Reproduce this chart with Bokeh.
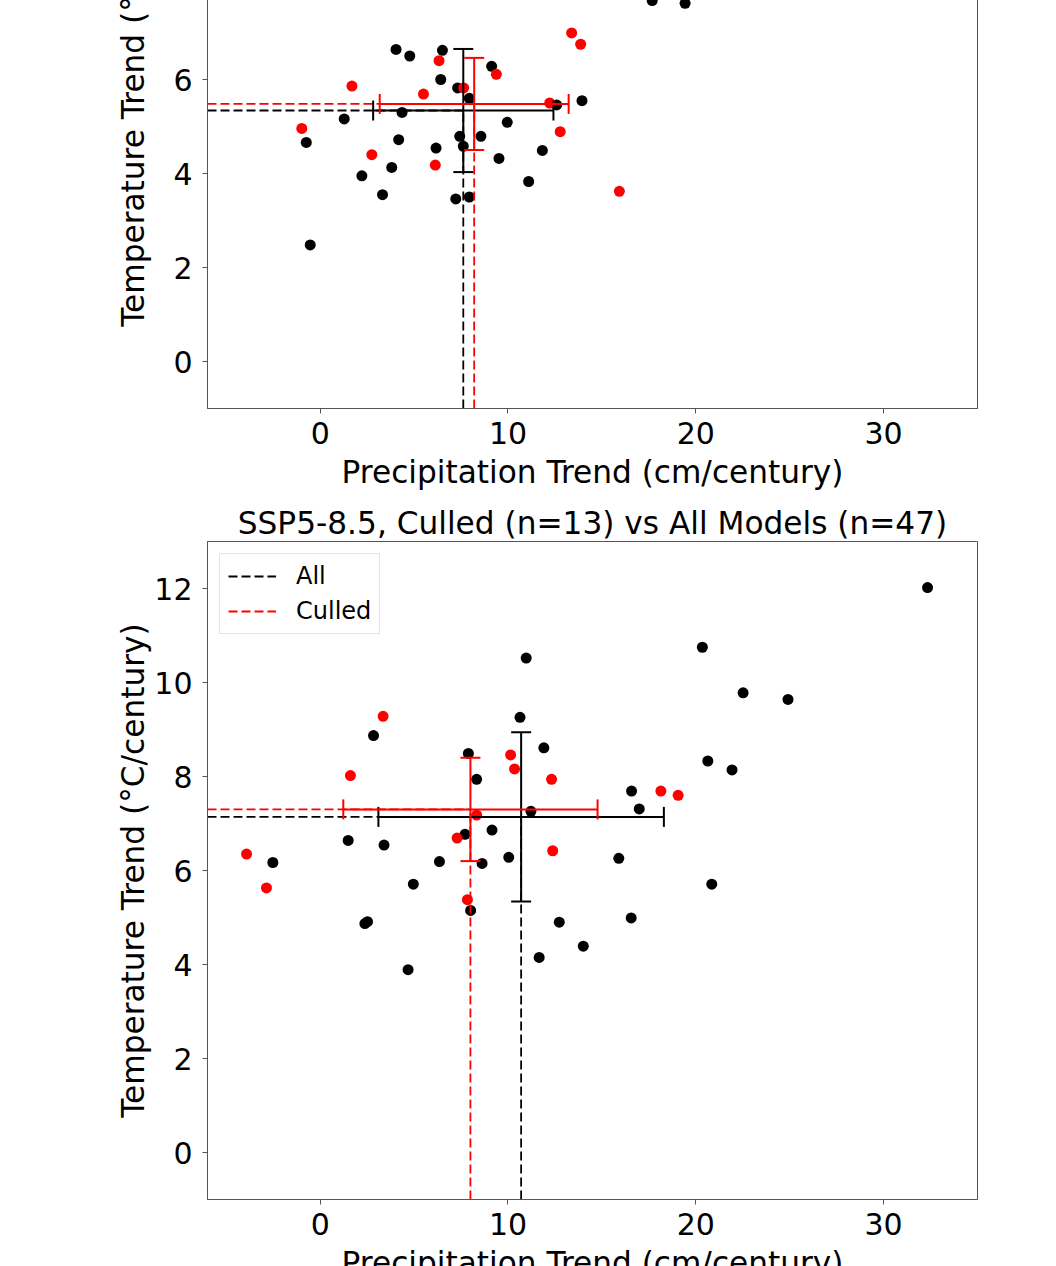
from bokeh.plotting import figure
from bokeh.models import Range1d, FixedTicker, Whisker, TeeHead, ColumnDataSource
from bokeh.layouts import column
from bokeh.embed import file_html
from bokeh.resources import INLINE

FONT = "DejaVu Sans"

# ---------------- data ----------------
x_ticks = [0, 10, 20, 30]
y_ticks = [0, 2, 4, 6, 8, 10, 12]
X_START, X_END = -6, 35
Y_START, Y_END = -1, 13

# top panel (its upper part lies above the visible page in the reference)
top_all_x = [4.04, 4.77, 6.51, 6.42, 7.32, 7.94, 9.13, 4.36, 1.28, -0.74, 4.18, 6.17,
             7.43, 7.62, 8.56, 9.96, 11.83, 9.52, 3.81, 2.22, 3.32, 7.22, 7.94, 11.10,
             12.59, 13.94, -0.53, 17.68, 19.43]
top_all_y = [6.64, 6.50, 6.62, 6.00, 5.82, 5.60, 6.28, 5.30, 5.16, 4.66, 4.72, 4.54,
             4.79, 4.58, 4.79, 5.09, 4.49, 4.32, 4.13, 3.95, 3.55, 3.46, 3.50, 3.83,
             5.46, 5.55, 2.48, 7.68, 7.62]
top_cull_x = [13.39, 13.87, 6.33, 9.38, 1.69, 7.64, 5.50, 12.22, -0.98, 12.78, 2.75, 6.13, 15.93]
top_cull_y = [6.99, 6.75, 6.40, 6.11, 5.86, 5.82, 5.69, 5.50, 4.96, 4.89, 4.40, 4.18, 3.62]
top_all_mean = [7.62, 5.34]
top_all_sd = [4.80, 1.31]
top_cull_mean = [8.20, 5.48]
top_cull_sd = [5.03, 0.98]

# bottom panel
bot_title = "SSP5-8.5, Culled (n=13) vs All Models (n=47)"
bot_all_x = [10.64, 2.84, 7.89, 11.91, 8.33, 16.58, 16.99, 11.22, 7.71, 9.15, 1.49, 3.40,
             -2.52, 6.35, 8.62, 10.04, 15.90, 4.96, 8.01, 2.38, 2.52, 12.73, 16.56, 14.01,
             11.66, 4.68, 32.34, 20.35, 10.97, 22.52, 24.91, 20.64, 21.93, 20.85]
bot_all_y = [9.26, 8.87, 8.49, 8.61, 7.94, 7.69, 7.31, 7.26, 6.77, 6.86, 6.64, 6.54,
             6.17, 6.19, 6.15, 6.28, 6.26, 5.71, 5.15, 4.87, 4.91, 4.90, 4.99, 4.39,
             4.15, 3.89, 12.02, 10.75, 10.52, 9.78, 9.64, 8.33, 8.14, 5.71]
bot_cull_x = [3.35, 1.61, 10.14, 10.35, 12.32, 18.14, 19.06, 8.33, 7.29, 12.38, -3.92, -2.86, 7.84]
bot_cull_y = [9.28, 8.02, 8.46, 8.16, 7.94, 7.69, 7.60, 7.18, 6.69, 6.42, 6.35, 5.63, 5.38]
bot_all_mean = [10.70, 7.14]
bot_all_sd = [7.60, 1.80]
bot_cull_mean = [8.00, 7.30]
bot_cull_sd = [6.77, 1.10]

x_label = "Precipitation Trend (cm/century)"
y_label = "Temperature Trend (°C/century)"
series_names = ["All", "Culled"]
colors = ["#000000", "#ff0000"]

# ---------------- layout constants ----------------
FRAME_W = 770
FRAME_H = 658
LEFT = 207
RIGHT = 40
TOP_HIDDEN = 250          # part of the upper panel that lies above the page
P1_BOTTOM = 89
P2_TOP = 44
P2_BOTTOM = 100
PAGE_H = 1266
TICK_FS = "30px"
LAB_FS = "31.2px"
LINE_C = "#555555"
DASH = "9 4"


def style(p):
    p.xaxis.ticker = FixedTicker(ticks=x_ticks)
    p.yaxis.ticker = FixedTicker(ticks=y_ticks)
    for ax in p.xaxis + p.yaxis:
        ax.major_label_text_font = FONT
        ax.major_label_text_font_size = TICK_FS
        ax.major_label_text_color = "#000000"
        ax.major_tick_out = 5
        ax.major_tick_in = 0
        ax.minor_tick_line_color = None
        ax.major_tick_line_color = LINE_C
        ax.axis_line_color = LINE_C
        ax.axis_label_text_font = FONT
        ax.axis_label_text_font_size = LAB_FS
        ax.axis_label_text_font_style = "normal"
        ax.axis_label_text_color = "#000000"
    p.xaxis.major_label_standoff = 8
    p.yaxis.major_label_standoff = 10
    p.xaxis.axis_label = x_label
    p.yaxis.axis_label = y_label
    p.xaxis.axis_label_standoff = 7
    p.yaxis.axis_label_standoff = 0
    p.xgrid.grid_line_color = None
    p.ygrid.grid_line_color = None
    p.outline_line_color = LINE_C


def draw(p, ax_, ay_, cx_, cy_, means, sds, legend):
    p.scatter(ax_, ay_, size=11, color=colors[0], line_color=None)
    p.scatter(cx_, cy_, size=11, color=colors[1], line_color=None)
    for (mx, my), (sx, sy), c, name in zip(means, sds, colors, series_names):
        kw = dict(legend_label=name) if legend else {}
        p.segment(x0=[X_START, mx], y0=[my, Y_START], x1=[mx, mx], y1=[my, my],
                  line_color=c, line_width=1.8, line_dash=DASH, **kw)
        src_v = ColumnDataSource(dict(base=[mx], lower=[my - sy], upper=[my + sy]))
        src_h = ColumnDataSource(dict(base=[my], lower=[mx - sx], upper=[mx + sx]))
        for src, dim in ((src_v, "height"), (src_h, "width")):
            w = Whisker(source=src, base="base", lower="lower", upper="upper",
                        dimension=dim, line_color=c, line_width=2, level="annotation",
                        upper_head=TeeHead(size=20, line_color=c, line_width=2),
                        lower_head=TeeHead(size=20, line_color=c, line_width=2))
            p.add_layout(w)


# ---------------- top figure ----------------
p1 = figure(frame_width=FRAME_W, frame_height=FRAME_H,
            x_range=Range1d(X_START, X_END), y_range=Range1d(Y_START, Y_END),
            output_backend="svg", toolbar_location=None,
            min_border_left=LEFT, min_border_right=RIGHT, min_border_top=0,
            min_border_bottom=P1_BOTTOM, margin=(-TOP_HIDDEN, 0, 0, 0))
style(p1)
draw(p1, top_all_x, top_all_y, top_cull_x, top_cull_y,
     [top_all_mean, top_cull_mean], [top_all_sd, top_cull_sd], legend=False)

# ---------------- bottom figure ----------------
p1_visible = FRAME_H + P1_BOTTOM - TOP_HIDDEN
p2_total = P2_TOP + FRAME_H + P2_BOTTOM
p2 = figure(frame_width=FRAME_W, frame_height=FRAME_H,
            x_range=Range1d(X_START, X_END), y_range=Range1d(Y_START, Y_END),
            output_backend="svg", toolbar_location=None,
            min_border_left=LEFT, min_border_right=RIGHT, min_border_top=P2_TOP,
            min_border_bottom=P2_BOTTOM, title=bot_title,
            margin=(0, 0, PAGE_H - p1_visible - p2_total, 0))
p2.title.text_font = FONT
p2.title.text_font_size = LAB_FS
p2.title.text_font_style = "normal"
p2.title.text_color = "#000000"
p2.title.align = "center"
p2.title.standoff = 2
style(p2)
draw(p2, bot_all_x, bot_all_y, bot_cull_x, bot_cull_y,
     [bot_all_mean, bot_cull_mean], [bot_all_sd, bot_cull_sd], legend=True)

lg = p2.legend[0]
lg.location = "top_left"
lg.margin = 12
lg.padding = 8
lg.spacing = 7
lg.glyph_width = 48
lg.glyph_height = 20
lg.label_standoff = 20
lg.label_text_font = FONT
lg.label_text_font_size = "24px"
lg.label_text_color = "#000000"
lg.border_line_color = "#cccccc"
lg.border_line_width = 1
lg.background_fill_alpha = 0.8

layout = column(p1, p2, spacing=0, styles={"overflow": "hidden"})
open("out.html", "w").write(file_html(layout, INLINE))
